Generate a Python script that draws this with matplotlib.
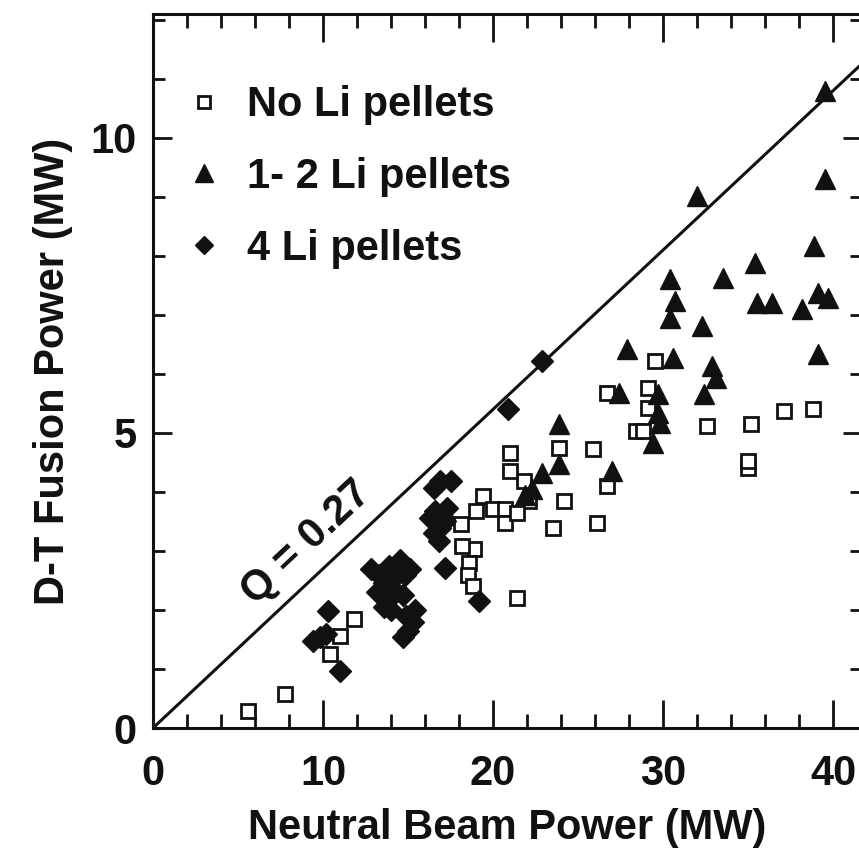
import matplotlib
matplotlib.use("Agg")
import matplotlib.pyplot as plt
from matplotlib.ticker import MultipleLocator

plt.rcParams['font.family'] = ['Liberation Sans', 'DejaVu Sans']
plt.rcParams['font.weight'] = 'bold'

# ---- data ----
no_li_x = [5.6, 7.76, 10.4, 11.0, 11.8,
           18.1, 18.9, 18.2, 18.6, 18.5, 18.8, 21.4,
           19.4, 19.0, 20.0, 20.7, 20.7, 21.8, 22.1, 21.4, 21.0, 21.0,
           23.9, 24.2, 23.5, 26.1, 25.9, 26.7, 26.7, 29.1, 29.1, 28.4, 28.8,
           29.5, 32.6, 35.2, 37.1, 38.8, 35.0, 35.0]
no_li_y = [0.29, 0.58, 1.25, 1.56, 1.85,
           3.46, 3.03, 3.08, 2.80, 2.60, 2.40, 2.20,
           3.93, 3.68, 3.71, 3.71, 3.47, 4.19, 3.85, 3.64, 4.66, 4.36,
           4.75, 3.85, 3.39, 3.47, 4.72, 4.10, 5.68, 5.76, 5.42, 5.03, 5.03,
           6.22, 5.12, 5.15, 5.37, 5.41, 4.41, 4.53]

li12_x = [39.5, 32.0, 39.5, 38.9, 35.4, 33.5, 30.4, 30.7, 30.4, 32.3,
          35.5, 36.4, 38.2, 39.1, 39.7, 39.1, 27.9, 30.6, 32.9, 33.1,
          32.4, 27.4, 29.7, 29.7, 29.8, 29.4, 27.0, 23.9, 23.9, 22.9,
          21.9, 22.3]
li12_y = [10.8, 9.02, 9.30, 8.17, 7.88, 7.63, 7.61, 7.24, 6.95, 6.81,
          7.20, 7.20, 7.10, 7.37, 7.29, 6.34, 6.42, 6.27, 6.14, 5.93,
          5.66, 5.68, 5.66, 5.34, 5.17, 4.83, 4.36, 5.15, 4.47, 4.32,
          3.95, 4.05]

li4_x = [9.4, 10.3, 11.0, 10.2, 9.8,
         12.8, 13.3, 13.6, 13.9, 14.2, 14.5, 14.8, 13.2, 13.8, 14.3, 14.7,
         15.1, 13.6, 14.0, 14.9, 15.3, 15.0, 14.7, 15.4,
         16.5, 16.9, 17.5, 16.6, 16.3, 17.3, 16.9, 16.8, 17.2, 17.2, 19.2,
         16.5, 17.0, 20.9, 22.9]
li4_y = [1.47, 1.98, 0.97, 1.60, 1.55,
         2.70, 2.60, 2.45, 2.75, 2.55, 2.85, 2.60, 2.30, 2.20, 2.30, 2.25,
         2.70, 2.05, 2.00, 1.90, 1.80, 1.65, 1.55, 2.00,
         4.07, 4.19, 4.19, 3.68, 3.56, 3.73, 3.39, 3.17, 3.50, 2.71, 2.15,
         3.30, 3.60, 5.41, 6.22]

q_value = 0.27
labels = ["No Li pellets", "1- 2 Li pellets", "4 Li pellets"]

# ---- figure ----
W, H = 859, 855
fig = plt.figure(figsize=(W / 100, H / 100), dpi=100)
ax_left, ax_right, ax_top, ax_bottom = 153, 862, 14, 728
ax = fig.add_axes([ax_left / W, (H - ax_bottom) / H,
                   (ax_right - ax_left) / W, (ax_bottom - ax_top) / H])

ink = '#111111'
ax.plot(no_li_x, no_li_y, linestyle='none', marker='s', markersize=9.5,
        markerfacecolor='white', markeredgecolor=ink, markeredgewidth=2.0,
        label=labels[0], zorder=3)
ax.plot(li12_x, li12_y, linestyle='none', marker='^', markersize=15,
        color=ink, label=labels[1], zorder=3)
ax.plot(li4_x, li4_y, linestyle='none', marker='D', markersize=11,
        color=ink, label=labels[2], zorder=3)

ax.axline((0, 0), slope=q_value, color=ink, linewidth=2.2, zorder=2)
ax.text(9.0, 3.15, "Q = 0.27", rotation=43, fontsize=30, fontweight='bold',
        ha='center', va='center', color=ink, rotation_mode='anchor')

ax.set_xlim(0, 41.7)
ax.set_ylim(0, 12.1)
ax.xaxis.set_major_locator(MultipleLocator(10))
ax.xaxis.set_minor_locator(MultipleLocator(2))
ax.yaxis.set_major_locator(MultipleLocator(5))
ax.yaxis.set_minor_locator(MultipleLocator(1))

ax.tick_params(axis='both', which='both', direction='in', top=True, right=True,
               colors=ink, width=2)
ax.tick_params(axis='x', which='major', length=20, pad=19, labelsize=30)
ax.tick_params(axis='x', which='minor', length=10)
ax.tick_params(axis='y', which='major', length=14, pad=12, labelsize=30)
ax.tick_params(axis='y', which='minor', length=8.5)
for s in ax.spines.values():
    s.set_linewidth(2.2)
    s.set_color(ink)

ax.set_xlabel("Neutral Beam Power (MW)", fontsize=30, fontweight='bold',
              labelpad=10, color=ink)
ax.set_ylabel("D-T Fusion Power (MW)", fontsize=30, fontweight='bold',
              labelpad=12, color=ink)

leg = ax.legend(loc='upper left', bbox_to_anchor=(0.049, 0.90),
                frameon=False, fontsize=30, borderpad=0, borderaxespad=0,
                handlelength=0.8, handletextpad=0.62, labelspacing=0.76,
                numpoints=1, markerscale=0.85)
for t in leg.get_texts():
    t.set_fontweight('bold')
    t.set_color(ink)

fig.savefig("out.png", dpi=100, facecolor='white')
